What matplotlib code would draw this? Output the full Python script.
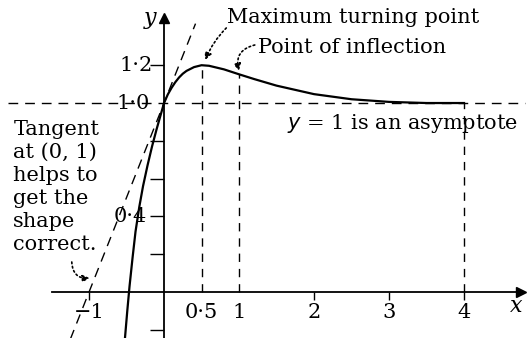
import matplotlib.pyplot as plt

# sketched curve
curve_x = [-0.52, -0.49, -0.46, -0.42, -0.38, -0.33, -0.28, -0.22, -0.16, -0.10, -0.05, 0.0,
           0.05, 0.1, 0.15, 0.2, 0.25, 0.3, 0.4, 0.5, 0.6, 0.8, 1.0, 1.2, 1.5,
           2.0, 2.5, 3.0, 3.5, 4.0]
curve_y = [-0.24, -0.10, 0.03, 0.18, 0.32, 0.45, 0.56, 0.67, 0.77, 0.86, 0.93, 1.0,
           1.045, 1.08, 1.11, 1.135, 1.155, 1.17, 1.19, 1.2, 1.197, 1.178, 1.152, 1.127, 1.092,
           1.047, 1.02, 1.006, 1.0, 1.0]

# tangent at (0, 1)
tangent_x = [-1.3, 0.42]
tangent_y = [-0.3, 1.42]

asymptote = 1.0
guide_x = [0.5, 1.0, 4.0]
guide_top = [1.2, 1.152, 1.0]

xtick_vals = [-1, 0.5, 1, 2, 3, 4]
xtick_text = ['\u22121', '0\u00b75', '1', '2', '3', '4']
ytick_marks = [-0.2, 0.2, 0.4, 0.6, 0.8, 1.2]
ytick_vals = [1.2, 1.0, 0.4]
ytick_text = ['1\u00b72', '1\u00b70', '0\u00b74']

plt.rcParams['font.family'] = 'DejaVu Serif'
fs = 15

fig = plt.figure(figsize=(5.28, 3.38), dpi=100)
ax = fig.add_axes([0, 0, 1, 1])
ax.set_xlim(-2.187, 4.853)
ax.set_ylim(-0.243, 1.545)

# axes through the origin
for s in ['top', 'right']:
    ax.spines[s].set_visible(False)
ax.spines['left'].set_position(('data', 0))
ax.spines['bottom'].set_position(('data', 0))
ax.spines['left'].set_bounds(-0.243, 1.43)
ax.spines['bottom'].set_bounds(-1.49, 4.74)
ax.spines['left'].set_linewidth(1.3)
ax.spines['bottom'].set_linewidth(1.3)
ax.plot(4.76, 0, marker='>', color='black', markersize=7, clip_on=False)
ax.plot(0, 1.45, marker='^', color='black', markersize=7, clip_on=False)

ax.set_xticks([-1, 2, 3, 4])
ax.set_yticks(ytick_marks)
ax.tick_params(axis='x', direction='out', length=6, width=1, labelbottom=False)
ax.tick_params(axis='y', direction='out', length=10, width=1, labelleft=False)

# dashed guides
ax.axhline(asymptote, xmin=0.015, xmax=0.995, color='black', lw=1,
           dashes=(7, 5))
ax.plot(tangent_x, tangent_y, color='black', lw=1, dashes=(7, 5))
for gx, gt in zip(guide_x, guide_top):
    ax.plot([gx, gx], [0, gt], color='black', lw=1, dashes=(6, 5))

ax.plot(curve_x, curve_y, color='black', lw=1.6)

# tick labels
for v, t in zip(xtick_vals, xtick_text):
    ax.text(v, -0.11, t, ha='center', va='center', fontsize=fs)
ax.text(-0.15, 1.2, ytick_text[0], ha='right', va='center', fontsize=fs)
ax.text(-0.41, 1.0, ytick_text[1], ha='center', va='center', fontsize=fs)
ax.text(-0.45, 0.4, ytick_text[2], ha='center', va='center', fontsize=fs)
ax.text(4.69, -0.074, 'x', style='italic', ha='center', va='center', fontsize=fs + 1)
ax.text(-0.19, 1.45, 'y', style='italic', ha='center', va='center', fontsize=fs + 1)

# annotations
ax.text(0.84, 1.45, 'Maximum turning point', ha='left', va='center', fontsize=fs)
ax.text(1.25, 1.296, 'Point of inflection', ha='left', va='center', fontsize=fs)
ax.text(1.64, 0.894, r'$y$ = 1 is an asymptote', ha='left', va='center', fontsize=fs)
ax.text(-2.01, 0.556, 'Tangent\nat (0, 1)\nhelps to\nget the\nshape\ncorrect.',
        ha='left', va='center', fontsize=fs, linespacing=1.27)

arrow = dict(arrowstyle='-|>', linestyle=':', color='black', lw=1.2,
             mutation_scale=10, shrinkA=0, shrinkB=0)
ax.annotate('', xy=(0.55, 1.228), xytext=(0.83, 1.397),
            arrowprops=dict(arrow, connectionstyle='arc3,rad=0.1'))
ax.annotate('', xy=(1.0, 1.17), xytext=(1.21, 1.307),
            arrowprops=dict(arrow, connectionstyle='arc3,rad=0.5'))
ax.annotate('', xy=(-0.99, 0.074), xytext=(-1.23, 0.159),
            arrowprops=dict(arrow, connectionstyle='arc3,rad=0.5'))

fig.savefig('out.png', dpi=100)
